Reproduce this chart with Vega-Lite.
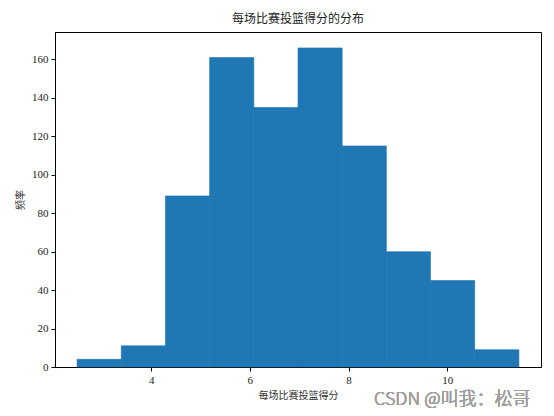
{
  "$schema": "https://vega.github.io/schema/vega-lite/v6.json",
  "width": 486,
  "height": 335,
  "autosize": {"type": "none"},
  "padding": {"left": 55, "top": 32, "right": 13, "bottom": 49},
  "background": "white",
  "title": {
    "text": "每场比赛投篮得分的分布",
    "font": "Noto Sans CJK SC",
    "fontSize": 12,
    "fontWeight": "normal",
    "color": "#222222",
    "offset": 6
  },
  "config": {
    "view": {"stroke": "black", "strokeWidth": 1},
    "axis": {
      "grid": false,
      "domainColor": "black",
      "tickColor": "black",
      "tickSize": 4,
      "labelFont": "Liberation Serif",
      "labelFontSize": 11,
      "labelColor": "#222222",
      "titleFont": "Noto Sans CJK SC",
      "titleFontSize": 10,
      "titleFontWeight": "normal",
      "titleColor": "#333333"
    }
  },
  "data": {
    "values": [
      {"start": 2.5, "end": 3.395, "count": 4},
      {"start": 3.395, "end": 4.29, "count": 11},
      {"start": 4.29, "end": 5.185, "count": 89},
      {"start": 5.185, "end": 6.08, "count": 161},
      {"start": 6.08, "end": 6.975, "count": 135},
      {"start": 6.975, "end": 7.87, "count": 166},
      {"start": 7.87, "end": 8.765, "count": 115},
      {"start": 8.765, "end": 9.66, "count": 60},
      {"start": 9.66, "end": 10.555, "count": 45},
      {"start": 10.555, "end": 11.45, "count": 9}
    ]
  },
  "layer": [
    {
      "mark": {"type": "rect", "color": "#1f77b4", "stroke": "#1f77b4", "strokeWidth": 0.6},
      "encoding": {
        "x": {
          "field": "start",
          "type": "quantitative",
          "scale": {"domain": [2.0525, 11.8975], "nice": false, "zero": false},
          "axis": {"values": [4, 6, 8, 10], "title": "每场比赛投篮得分", "labelPadding": 3, "titlePadding": 5}
        },
        "x2": {"field": "end"},
        "y": {
          "field": "count",
          "type": "quantitative",
          "scale": {"domain": [0, 174.3], "nice": false},
          "axis": {"values": [0, 20, 40, 60, 80, 100, 120, 140, 160], "title": "频率", "labelPadding": 3, "titlePadding": 6}
        },
        "y2": {"datum": 0}
      }
    },
    {
      "mark": {"type": "text", "text": "CSDN @叫我：松哥", "font": "Noto Sans CJK SC", "fontSize": 18, "fontWeight": 300, "color": "#a0a0a0", "align": "center", "baseline": "middle", "letterSpacing": 0.8},
      "encoding": {
        "x": {"datum": 10.1, "type": "quantitative"},
        "y": {"datum": -17.2, "type": "quantitative"}
      }
    }
  ]
}
